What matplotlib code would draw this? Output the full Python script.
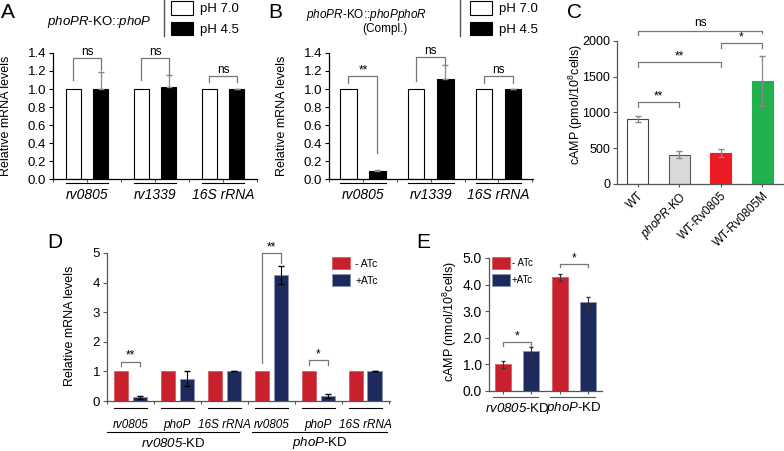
import matplotlib
matplotlib.use('Agg')
import matplotlib.pyplot as plt
from matplotlib.patches import Patch
from matplotlib.lines import Line2D
import numpy as np

plt.rcParams['font.family'] = ['Liberation Sans', 'DejaVu Sans']
plt.rcParams['mathtext.fontset'] = 'custom'
# digits in math mode come from 'rm', so make it italic for gene names
plt.rcParams['mathtext.rm'] = 'Liberation Sans:italic'
plt.rcParams['mathtext.it'] = 'Liberation Sans:italic'
plt.rcParams['mathtext.sf'] = 'Liberation Sans'

# ---- data ----
ab_genes = ['rv0805', 'rv1339', '16S rRNA']
a_ph70 = [1.0, 1.0, 1.0]
a_ph45 = [1.0, 1.02, 1.0]
a_ph45_err = [0.19, 0.14, 0.0]
b_ph70 = [1.0, 1.0, 1.0]
b_ph45 = [0.09, 1.11, 1.0]
b_ph45_err = [0.01, 0.16, 0.0]

c_strains = ['WT', '$\\mathit{phoPR}$-KO', 'WT-Rv0805', 'WT-Rv0805M']
c_values = [910, 410, 430, 1440]
c_err = [40, 50, 55, 350]
c_colors = ['white', '#d9d9d9', '#ed1c24', '#22b14c']

d_genes = ['rv0805', 'phoP', '16S rRNA', 'rv0805', 'phoP', '16S rRNA']
d_groups = ['$\\mathit{rv0805}$-KD', '$\\mathit{phoP}$-KD']
d_minus = [1.0, 1.0, 1.0, 1.0, 1.0, 1.0]
d_plus = [0.12, 0.75, 1.0, 4.25, 0.17, 1.0]
d_plus_err = [0.04, 0.25, 0.0, 0.3, 0.06, 0.0]

e_groups = ['$\\mathit{rv0805}$-KD', '$\\mathit{phoP}$-KD']
e_minus = [1.0, 4.27]
e_minus_err = [0.13, 0.13]
e_plus = [1.52, 3.33]
e_plus_err = [0.13, 0.2]

RED = '#c8202c'
BLUE = '#1f2a5c'
W, H = 784, 451


def rect(l, r, t, b):
    return [l / W, (H - b) / H, (r - l) / W, (b - t) / H]


def bracket(ax, x1, x2, y, yl, yr, text, color='#777', fs=8.5, pad=0.0):
    ax.plot([x1, x1, x2, x2], [yl, y, y, yr], color=color, lw=0.9,
            clip_on=False)
    ax.text((x1 + x2) / 2, y + pad, text, ha='center', va='bottom',
            fontsize=fs, clip_on=False)


def style(ax, spine_color='black'):
    for s in ['top', 'right']:
        ax.spines[s].set_visible(False)
    for s in ['left', 'bottom']:
        ax.spines[s].set_color(spine_color)
        ax.spines[s].set_linewidth(0.9)


fig = plt.figure(figsize=(W / 100, H / 100), dpi=100)


def ph_panel(pos, ph70, ph45, err, xlim, off, bw, brackets):
    ax = fig.add_axes(pos)
    x = np.arange(len(ab_genes))
    ax.bar(x - off, ph70, bw, color='white', edgecolor='black', lw=0.8)
    ax.bar(x + off, ph45, bw, color='black', edgecolor='black', lw=0.8)
    ax.errorbar(x + off, ph45, yerr=[np.zeros(len(err)), err], fmt='none',
                ecolor='#888', elinewidth=0.9, capsize=2)
    ax.set_xlim(*xlim)
    ax.set_ylim(0, 1.4)
    ax.set_yticks(np.arange(0, 1.41, 0.2))
    ax.set_yticklabels(['%.1f' % v for v in np.arange(0, 1.41, 0.2)])
    ax.set_xticks(np.arange(-0.5, 3.0, 0.5))
    ax.set_xticklabels([])
    ax.tick_params(axis='x', length=2, color='#555')
    ax.tick_params(axis='y', length=3, labelsize=9.5, pad=2)
    style(ax)
    tr = ax.get_xaxis_transform()
    for i, g in enumerate(ab_genes):
        ax.plot([i - off - bw / 2, i + off + bw / 2], [-0.032, -0.032],
                color='black', lw=0.8, transform=tr, clip_on=False)
        ax.text(i, -0.13, g, transform=tr, ha='center', va='center',
                fontsize=10, style='italic')
    ax.text(-0.23, 0.5, 'Relative mRNA levels', transform=ax.transAxes,
            rotation=90, ha='center', va='center', fontsize=9)
    for i, y, yl, yr, t in brackets:
        bracket(ax, i - off, i + off, y, yl, yr, t)
    return ax


axA = ph_panel(rect(53, 257, 53, 179), a_ph70, a_ph45, a_ph45_err,
               (-0.376, 2.467), 0.2, 0.216,
               [(0, 1.34, 1.1, 1.21, 'ns'), (1, 1.34, 1.1, 1.17, 'ns'),
                (2, 1.14, 1.08, 1.08, 'ns')])
axB = ph_panel(rect(329, 533, 53, 179), b_ph70, b_ph45, b_ph45_err,
               (-0.366, 2.51), 0.215, 0.245,
               [(0, 1.14, 1.07, 0.29, '**'), (1, 1.36, 1.09, 1.28, 'ns'),
                (2, 1.14, 1.07, 1.07, 'ns')])

# titles / legends of A and B
fig.text(99 / W, 1 - 22 / H, '$\\mathit{phoPR}$-KO::$\\mathit{phoP}$',
         ha='center', va='center', fontsize=9.5)
fig.text(366 / W, 1 - 15 / H, '$\\mathit{phoPR}$-KO::$\\mathit{phoPphoR}$',
         ha='center', va='center', fontsize=8.5)
fig.text(385 / W, 1 - 29 / H, '(Compl.)', ha='center', va='center',
         fontsize=8.5)
for xl in (164, 460):
    fig.add_artist(Line2D([xl / W, xl / W], [1, 1 - 36 / H], color='#555',
                          lw=1, transform=fig.transFigure))
ph_handles = [Patch(facecolor='white', edgecolor='black', lw=0.8),
              Patch(facecolor='black', edgecolor='black', lw=0.8)]
for x0 in (171, 470):
    fig.legend(ph_handles, ['pH 7.0', 'pH 4.5'], loc='upper left',
               bbox_to_anchor=(x0 / W, 1 - 1 / H), frameon=False,
               fontsize=9.5, borderpad=0, borderaxespad=0, handlelength=1.67,
               handleheight=1.2, labelspacing=0.5, handletextpad=0.5)

# ---- panel C ----
axC = fig.add_axes(rect(617, 783, 41, 184))
xc = np.arange(len(c_strains))
axC.bar(xc, c_values, 0.5, color=c_colors,
        edgecolor=['#444', '#555', c_colors[2], c_colors[3]], lw=0.8)
axC.errorbar(xc, c_values, yerr=c_err, fmt='none', ecolor='#888',
             elinewidth=0.9, capsize=2)
axC.set_xlim(-0.5, 3.5)
axC.set_ylim(0, 2000)
axC.set_yticks([0, 500, 1000, 1500, 2000])
axC.set_xticks(xc)
axC.set_xticklabels(c_strains, rotation=45, ha='right', rotation_mode='anchor',
                    fontsize=8.5)
axC.tick_params(axis='x', length=2, color='#555', pad=2)
axC.tick_params(axis='y', length=3, labelsize=9, pad=2, color='#555')
style(axC, '#555')
axC.text(-0.25, 0.56, 'cAMP (pmol/10$^{\\mathsf{8}}$cells)',
         transform=axC.transAxes, rotation=90, ha='center', va='center',
         fontsize=9)
bracket(axC, 0, 1, 1147, 1077, 1077, '**')
bracket(axC, 0, 2, 1706, 1636, 1636, '**')
bracket(axC, 2, 3, 1972, 1900, 1900, '*')
bracket(axC, 0, 3, 2140, 2084, 2110, 'ns', pad=30)

# ---- panel D ----
axD = fig.add_axes(rect(107, 390, 253, 401))
xd = np.arange(len(d_genes))
dw, doff = 0.3, 0.2
axD.bar(xd - doff, d_minus, dw, color=RED, edgecolor='#d85a63', lw=0.6)
axD.bar(xd + doff, d_plus, dw, color=BLUE, edgecolor='#8a93b3', lw=0.6)
axD.errorbar(xd + doff, d_plus, yerr=d_plus_err, fmt='none', ecolor='black',
             elinewidth=0.8, capsize=2)
axD.set_xlim(-0.49, 5.53)
axD.set_ylim(0, 5)
axD.set_yticks(range(6))
axD.set_xticks(np.arange(-0.5, 5.6, 1))
axD.set_xticklabels([])
axD.tick_params(axis='x', length=2, color='#555')
axD.tick_params(axis='y', length=3, labelsize=9.5, pad=2, color='#555')
style(axD, '#555')
trD = axD.get_xaxis_transform()
for i, g in enumerate(d_genes):
    axD.plot([i - doff - dw / 2, i + doff + dw / 2], [-0.047, -0.047],
             color='black', lw=0.8, transform=trD, clip_on=False)
    axD.text(i, -0.162, g, transform=trD, ha='center', va='center',
             fontsize=8.5, style='italic')
for k, g in enumerate(d_groups):
    x1, x2 = (-0.49, 2.32) if k == 0 else (2.6, 5.47)
    axD.plot([x1, x2], [-0.209, -0.209], color='black', lw=0.8,
             transform=trD, clip_on=False)
    axD.text((x1 + x2) / 2, -0.285, g, transform=trD, ha='center',
             va='center', fontsize=9.5)
axD.text(-0.13, 0.51, 'Relative mRNA levels', transform=axD.transAxes,
         rotation=90, ha='center', va='center', fontsize=9)
bracket(axD, 0 - doff, 0 + doff, 1.32, 1.18, 1.18, '**')
bracket(axD, 3 - doff, 3 + doff, 5.0, 1.28, 4.65, '**')
bracket(axD, 4 - doff, 4 + doff, 1.38, 1.22, 1.22, '*')
atc_handles = [Patch(facecolor=RED, edgecolor='#d85a63', lw=0.6),
               Patch(facecolor=BLUE, edgecolor='#8a93b3', lw=0.6)]
fig.legend(atc_handles, ['- ATc', '+ATc'], loc='upper left',
           bbox_to_anchor=(332 / W, 1 - 257 / H), frameon=False,
           fontsize=7.5, borderpad=0, borderaxespad=0, handlelength=1.73,
           handleheight=1.44, labelspacing=0.45, handletextpad=0.5)

# ---- panel E ----
axE = fig.add_axes(rect(489, 602, 258, 391))
xe = np.arange(len(e_groups))
ew, eoff = 0.28, 0.245
axE.bar(xe - eoff, e_minus, ew, color=RED, edgecolor='#d85a63', lw=0.6)
axE.bar(xe + eoff, e_plus, ew, color=BLUE, edgecolor='#8a93b3', lw=0.6)
axE.errorbar(xe - eoff, e_minus, yerr=e_minus_err, fmt='none', ecolor='#333',
             elinewidth=0.8, capsize=1.5)
axE.errorbar(xe + eoff, e_plus, yerr=e_plus_err, fmt='none', ecolor='#333',
             elinewidth=0.8, capsize=1.5)
axE.set_xlim(-0.49, 1.49)
axE.set_ylim(0, 5)
axE.set_yticks(np.arange(0, 5.1, 1))
axE.set_yticklabels(['%.1f' % v for v in np.arange(0, 5.1, 1)])
axE.set_xticks(np.concatenate([xe - eoff, xe + eoff]))
axE.set_xticklabels([])
axE.tick_params(axis='x', length=2, color='#555')
axE.tick_params(axis='y', length=3, labelsize=10, pad=2, color='#555')
style(axE, '#555')
trE = axE.get_xaxis_transform()
for i, g in enumerate(e_groups):
    axE.plot([i - 0.42, i + 0.37], [-0.045, -0.045], color='#555', lw=0.8,
             transform=trE, clip_on=False)
    axE.text(i, -0.128, g, transform=trE, ha='center', va='center',
             fontsize=9.5)
axE.text(-0.345, 0.52, 'cAMP (nmol/10$^{\\mathsf{8}}$cells)',
         transform=axE.transAxes, rotation=90, ha='center', va='center',
         fontsize=9)
bracket(axE, 0 - eoff, 0 + eoff, 1.84, 1.7, 1.7, '*')
bracket(axE, 1 - eoff, 1 + eoff, 4.77, 4.65, 4.65, '*')
fig.legend(atc_handles, ['- ATc', '+ATc'], loc='upper left',
           bbox_to_anchor=(492 / W, 1 - 257 / H), frameon=False,
           fontsize=7, borderpad=0, borderaxespad=0, handlelength=1.85,
           handleheight=1.5, labelspacing=0.5, handletextpad=0.2)

# panel letters
for lab, px, py in [('A', 8, 12), ('B', 275, 12), ('C', 575, 13),
                    ('D', 55, 242), ('E', 423, 242)]:
    fig.text(px / W, 1 - py / H, lab, ha='center', va='center', fontsize=15)

fig.savefig('out.png', dpi=100)
